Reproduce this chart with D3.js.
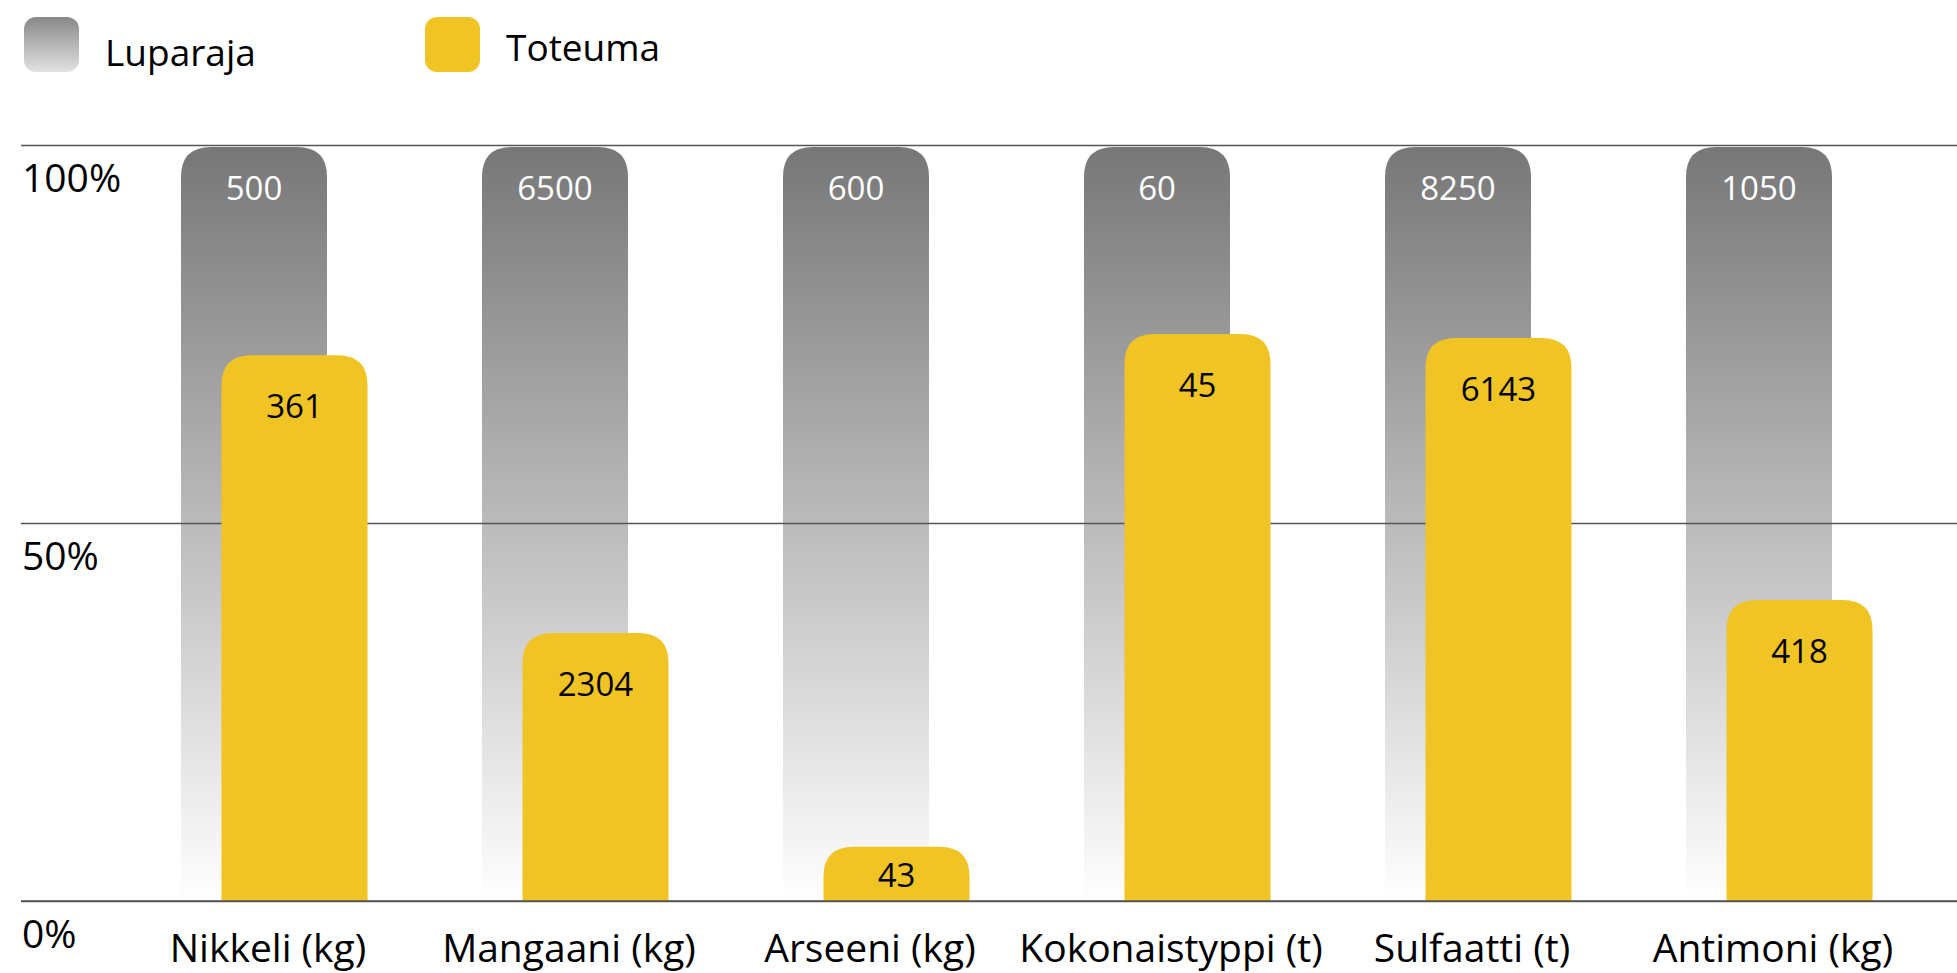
<!DOCTYPE html>
<html>
<head>
<meta charset="utf-8">
<script src="https://cdn.jsdelivr.net/npm/d3@7"></script>
<style>
  html, body { margin: 0; padding: 0; background: #fff; }
  text { font-family: "Open Sans", Lato, sans-serif; }
</style>
</head>
<body>
<div id="chart"></div>
<script>
const categories = ['Nikkeli (kg)', 'Mangaani (kg)', 'Arseeni (kg)', 'Kokonaistyppi (t)', 'Sulfaatti (t)', 'Antimoni (kg)'];
const luparaja = [500, 6500, 600, 60, 8250, 1050];
const toteuma = [361, 2304, 43, 45, 6143, 418];
const yTicks = [0, 0.5, 1];
const legendLabels = ['Luparaja', 'Toteuma'];

const WIDTH = 1957, HEIGHT = 973;
const YELLOW = '#f0c425';
const BAR_W = 146, OFFSET = 40.5, RADIUS = 30;

const svg = d3.select('#chart').append('svg')
    .attr('width', WIDTH)
    .attr('height', HEIGHT);

const defs = svg.append('defs');
const grad = defs.append('linearGradient')
    .attr('id', 'greyGrad')
    .attr('x1', 0).attr('y1', 0).attr('x2', 0).attr('y2', 1);
grad.append('stop').attr('offset', '0%').attr('stop-color', '#777777');
grad.append('stop').attr('offset', '100%').attr('stop-color', '#ffffff');

const legGrad = defs.append('linearGradient')
    .attr('id', 'legGrad')
    .attr('x1', 0).attr('y1', 0).attr('x2', 0).attr('y2', 1);
legGrad.append('stop').attr('offset', '0%').attr('stop-color', '#888888');
legGrad.append('stop').attr('offset', '100%').attr('stop-color', '#e2e2e2');

const x = d3.scalePoint()
    .domain(categories)
    .range([274, 1779]);

const y = d3.scaleLinear()
    .domain([0, 1])
    .range([901, 145]);

// bar with rounded top corners only
function topRounded(x0, y0, w, h, r) {
    r = Math.min(r, h, w / 2);
    return `M${x0},${y0 + h}V${y0 + r}Q${x0},${y0} ${x0 + r},${y0}` +
        `H${x0 + w - r}Q${x0 + w},${y0} ${x0 + w},${y0 + r}V${y0 + h}Z`;
}

const rows = categories.map((c, i) => ({ cat: c, limit: luparaja[i], actual: toteuma[i], ratio: toteuma[i] / luparaja[i] }));

// limit bars
const grey = svg.append('g');
grey.selectAll('path')
    .data(rows)
    .enter()
    .append('path')
    .attr('d', d => topRounded(x(d.cat) - 93, y(1) + 2, BAR_W, y(0) - y(1) - 2, RADIUS))
    .attr('fill', 'url(#greyGrad)');

grey.selectAll('text')
    .data(rows)
    .enter()
    .append('text')
    .attr('x', d => x(d.cat) - 93 + BAR_W / 2)
    .attr('y', y(1) + 55)
    .attr('text-anchor', 'middle')
    .attr('fill', '#fff')
    .attr('font-size', 33)
    .text(d => d.limit);

// grid + labels
const axis = d3.axisLeft(y)
    .tickValues(yTicks)
    .tickSize(-(WIDTH - 21))
    .tickFormat(d3.format('.0%'));

const gAxis = svg.append('g')
    .attr('transform', 'translate(21,0)')
    .call(axis);
gAxis.select('.domain').remove();
gAxis.selectAll('.tick line').attr('stroke', '#555').attr('stroke-width', 1.5);
gAxis.selectAll('.tick text')
    .attr('x', 1)
    .attr('dy', 46)
    .attr('text-anchor', 'start')
    .attr('fill', '#000')
    .attr('font-size', 39);

// actual bars
const yellow = svg.append('g');
yellow.selectAll('path')
    .data(rows)
    .enter()
    .append('path')
    .attr('d', d => topRounded(x(d.cat) - 93 + OFFSET, y(d.ratio), BAR_W, y(0) - y(d.ratio), RADIUS))
    .attr('fill', YELLOW);

yellow.selectAll('text')
    .data(rows)
    .enter()
    .append('text')
    .attr('x', d => x(d.cat) - 93 + OFFSET + BAR_W / 2)
    .attr('y', d => Math.min(y(d.ratio) + 63, (y(d.ratio) + y(0)) / 2 + 13))
    .attr('text-anchor', 'middle')
    .attr('fill', '#000')
    .attr('font-size', 33)
    .text(d => d.actual);

// baseline on top
svg.append('line')
    .attr('x1', 21).attr('x2', WIDTH)
    .attr('y1', y(0)).attr('y2', y(0))
    .attr('stroke', '#555').attr('stroke-width', 1.5);

// category labels
svg.append('g').selectAll('text')
    .data(categories)
    .enter()
    .append('text')
    .attr('x', d => x(d) - 6)
    .attr('y', 962)
    .attr('text-anchor', 'middle')
    .attr('fill', '#000')
    .attr('font-size', 39)
    .text(d => d);

// legend
const legend = svg.append('g');
const legItems = [
    { label: legendLabels[0], fill: 'url(#legGrad)', x: 24, ty: 66 },
    { label: legendLabels[1], fill: YELLOW, x: 425, ty: 61 }
];
legItems.forEach(it => {
    legend.append('rect')
        .attr('x', it.x).attr('y', 17)
        .attr('width', 55).attr('height', 55)
        .attr('rx', 12)
        .attr('fill', it.fill);
    legend.append('text')
        .attr('x', it.x + 81)
        .attr('y', it.ty)
        .attr('font-size', 37)
        .attr('fill', '#000')
        .text(it.label);
});
</script>
</body>
</html>
